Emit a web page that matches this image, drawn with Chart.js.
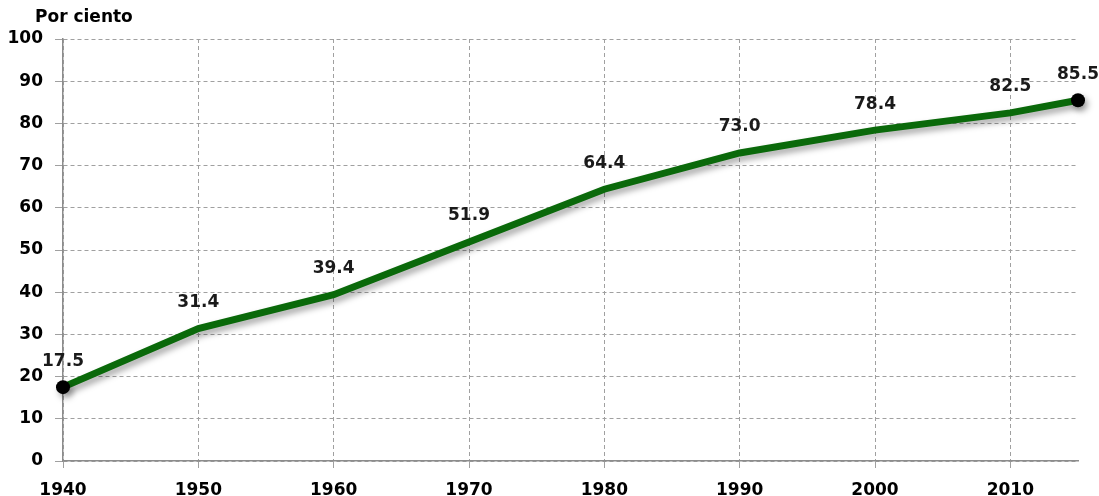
<!DOCTYPE html>
<html>
<head>
<meta charset="utf-8">
<script src="https://cdn.jsdelivr.net/npm/chart.js@4/dist/chart.umd.min.js"></script>
<style>
  html, body { margin: 0; padding: 0; background: #fff; }
  #wrap { width: 1099px; height: 496px; position: relative; }
</style>
</head>
<body>
<div id="wrap"><canvas id="urbanChart"></canvas></div>
<script>
const years = [1940, 1950, 1960, 1970, 1980, 1990, 2000, 2010, 2015];
const percent = [17.5, 31.4, 39.4, 51.9, 64.4, 73.0, 78.4, 82.5, 85.5];
const yTicks = [0, 10, 20, 30, 40, 50, 60, 70, 80, 90, 100];
const yTitle = 'Por ciento';

const FONT = '"DejaVu Sans", Verdana, sans-serif';

// shadow under the line
const shadowPlugin = {
    id: 'lineShadow',
    beforeDatasetDraw(chart) {
        const ctx = chart.ctx;
        ctx.save();
        ctx.shadowColor = 'rgba(0, 0, 0, 0.35)';
        ctx.shadowBlur = 6;
        ctx.shadowOffsetX = 3;
        ctx.shadowOffsetY = 4;
    },
    afterDatasetDraw(chart) {
        chart.ctx.restore();
    }
};

// value labels above points + axis title
const labelPlugin = {
    id: 'valueLabels',
    afterDatasetsDraw(chart) {
        const ctx = chart.ctx;
        const meta = chart.getDatasetMeta(0);
        ctx.save();
        ctx.font = 'bold 17px ' + FONT;
        ctx.fillStyle = '#1a1a1a';
        ctx.textAlign = 'center';
        ctx.textBaseline = 'middle';
        meta.data.forEach((pt, i) => {
            ctx.fillText(percent[i].toFixed(1), pt.x, pt.y - 26);
        });
        ctx.textAlign = 'left';
        ctx.fillStyle = '#000';
        ctx.fillText(yTitle, 35, 18);
        ctx.restore();
    }
};

const ctx = document.getElementById('urbanChart').getContext('2d');
new Chart(ctx, {
    type: 'line',
    data: {
        datasets: [{
            data: years.map((y, i) => ({ x: y, y: percent[i] })),
            borderColor: '#0a690a',
            borderWidth: 7,
            tension: 0,
            pointRadius: percent.map((v, i) => (i === 0 || i === percent.length - 1) ? 7 : 0),
            pointBackgroundColor: '#000',
            pointBorderWidth: 0,
            clip: false
        }]
    },
    options: {
        responsive: true,
        maintainAspectRatio: false,
        animation: false,
        layout: { padding: { top: 39, right: 21, left: 0, bottom: 0 } },
        plugins: {
            legend: { display: false },
            tooltip: { enabled: false }
        },
        scales: {
            x: {
                type: 'linear',
                min: 1940,
                max: 2015,
                afterFit: axis => { axis.height = 35; },
                ticks: {
                    stepSize: 10,
                    includeBounds: false,
                    color: '#000',
                    font: { family: FONT, size: 17, weight: 'bold' },
                    padding: 12,
                    callback: v => String(v)
                },
                grid: {
                    color: '#a0a0a0',
                    tickLength: 7
                },
                border: { color: '#8c8c8c', width: 1.5, dash: [4, 3] }
            },
            y: {
                min: 0,
                max: 100,
                afterBuildTicks: axis => { axis.ticks = yTicks.map(v => ({ value: v })); },
                afterFit: axis => { axis.width = 63; },
                ticks: {
                    color: '#000',
                    font: { family: FONT, size: 17, weight: 'bold' },
                    padding: 12
                },
                grid: {
                    color: '#a0a0a0',
                    tickLength: 8
                },
                border: { color: '#8c8c8c', width: 1.5, dash: [4, 3] }
            }
        }
    },
    plugins: [shadowPlugin, labelPlugin]
});
</script>
</body>
</html>
